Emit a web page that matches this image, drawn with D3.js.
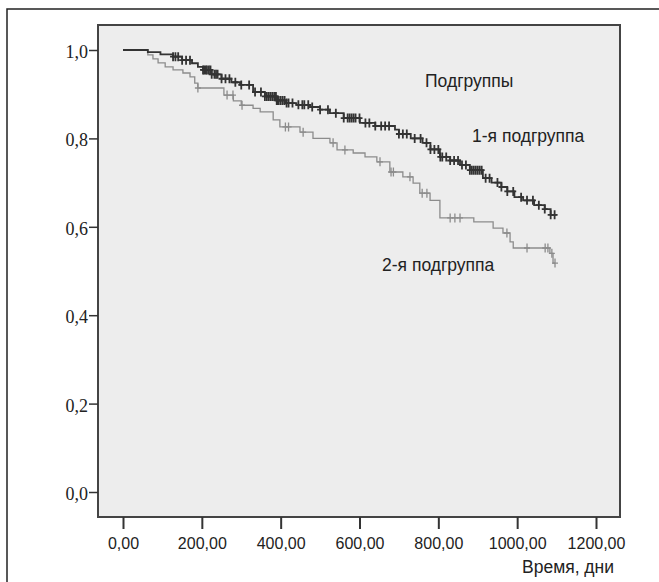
<!DOCTYPE html>
<html>
<head>
<meta charset="utf-8">
<script src="https://cdn.jsdelivr.net/npm/d3@7"></script>
<style>
  body { margin: 0; background: #fff; }
  .ytick text { font-family: "Liberation Serif", serif; font-size: 18px; fill: #222; }
  .xtick text { font-family: "Liberation Sans", sans-serif; font-size: 16px; fill: #222; }
  .lbl { font-family: "Liberation Sans", Arial, sans-serif; font-size: 17.5px; fill: #222; }
</style>
</head>
<body>
<div class="content"></div>
<script>
var width = 659
var height = 582

// group 1 (dark): step times and survival after each step
var times1 = [0, 63, 95, 127, 150, 175, 190, 203, 225, 250, 275, 297, 330, 360, 390, 411, 440, 475, 500, 525, 560, 601, 640, 690, 700, 730, 760, 780, 804, 830, 855, 880, 913, 935, 960, 975, 993, 1015, 1043, 1070, 1085]
var surv1 = [1.0, 0.995, 0.99, 0.985, 0.977, 0.97, 0.962, 0.955, 0.945, 0.935, 0.927, 0.921, 0.905, 0.895, 0.886, 0.88, 0.876, 0.871, 0.865, 0.857, 0.846, 0.835, 0.828, 0.82, 0.81, 0.80, 0.79, 0.775, 0.758, 0.75, 0.74, 0.728, 0.71, 0.70, 0.69, 0.68, 0.667, 0.66, 0.649, 0.64, 0.627]
var end1 = 1100
var censor1 = [127, 133, 140, 150, 160, 170, 203, 206, 210, 213, 218, 222, 225, 232, 236, 240, 250, 260, 270, 285, 300, 320, 335, 350, 360, 365, 370, 375, 380, 385, 388, 390, 393, 395, 400, 405, 410, 415, 420, 430, 445, 455, 460, 470, 480, 500, 520, 540, 560, 570, 575, 580, 585, 590, 600, 615, 625, 640, 655, 665, 675, 700, 710, 720, 740, 755, 770, 780, 790, 800, 805, 810, 820, 830, 840, 850, 860, 870, 880, 885, 890, 895, 900, 905, 910, 920, 930, 950, 960, 975, 990, 1010, 1025, 1040, 1055, 1070, 1085, 1095]

// group 2 (light)
var times2 = [0, 63, 76, 89, 107, 127, 152, 170, 182, 190, 256, 280, 300, 330, 348, 381, 398, 449, 482, 525, 543, 584, 614, 644, 677, 710, 736, 753, 779, 804, 890, 939, 964, 982, 990, 1083, 1091]
var surv2 = [1.0, 0.989, 0.98, 0.971, 0.962, 0.955, 0.948, 0.939, 0.925, 0.914, 0.898, 0.885, 0.875, 0.868, 0.86, 0.842, 0.826, 0.814, 0.80, 0.79, 0.774, 0.767, 0.758, 0.747, 0.724, 0.713, 0.699, 0.676, 0.66, 0.62, 0.611, 0.597, 0.586, 0.566, 0.552, 0.54, 0.518]
var end2 = 1096
var censor2 = [190, 264, 279, 302, 412, 420, 457, 533, 563, 652, 680, 686, 728, 759, 771, 830, 842, 855, 974, 1025, 1071, 1078, 1088, 1096]

var xTicks = [0, 200, 400, 600, 800, 1000, 1200]
var yTicks = [0, 0.2, 0.4, 0.6, 0.8, 1.0]

var x = d3.scaleLinear().domain([0, 1200]).range([123, 596])
var y = d3.scaleLinear().domain([0, 1]).range([492, 50])

var svg = d3.select('.content').append('svg')
    .attr('width', width)
    .attr('height', height)

// outer frame (right and bottom edges fall outside the picture)
svg.append('rect')
    .attr('x', 7).attr('y', 9)
    .attr('width', 700).attr('height', 700)
    .attr('fill', 'none')
    .attr('stroke', '#222')
    .attr('stroke-width', 1.5)

svg.append('rect')
    .attr('x', 98).attr('y', 25)
    .attr('width', 522).attr('height', 492)
    .attr('fill', '#ededed')
    .attr('stroke', '#444')
    .attr('stroke-width', 2)

var yAxis = svg.append('g')
    .attr('class', 'ytick')
    .attr('transform', 'translate(98,0)')
    .call(d3.axisLeft(y).tickValues(yTicks).tickSize(9).tickPadding(1)
        .tickFormat(function(d) { return d3.format('.1f')(d).replace('.', ',') }))
yAxis.select('.domain').remove()
yAxis.selectAll('line').attr('stroke', '#333').attr('stroke-width', 1.5)
yAxis.selectAll('text').attr('dy', '0.42em')

var xAxis = svg.append('g')
    .attr('class', 'xtick')
    .attr('transform', 'translate(0,517)')
    .call(d3.axisBottom(x).tickValues(xTicks).tickSize(12).tickPadding(9)
        .tickFormat(function(d) { return d3.format('.2f')(d).replace('.', ',') }))
xAxis.select('.domain').remove()
xAxis.selectAll('line').attr('stroke', '#333').attr('stroke-width', 2)

function stepAt(times, surv, t) {
    var i = d3.bisectRight(times, t) - 1
    return surv[Math.max(i, 0)]
}

function drawCurve(times, surv, endT, censors, color, sw) {
    var pts = times.map(function(t, i) { return [t, surv[i]] })
    pts.push([endT, surv[surv.length - 1]])
    var line = d3.line()
        .x(function(d) { return x(d[0]) })
        .y(function(d) { return y(d[1]) })
        .curve(d3.curveStepAfter)
    svg.append('path')
        .datum(pts)
        .attr('d', line)
        .attr('fill', 'none')
        .attr('stroke', color)
        .attr('stroke-width', sw)
    svg.append('g')
        .selectAll('path')
        .data(censors)
        .enter().append('path')
        .attr('d', function(t) {
            var cx = x(t), cy = y(stepAt(times, surv, t))
            return 'M' + cx + ',' + (cy - 4.5) + 'V' + (cy + 4.5) + 'M' + (cx - 3) + ',' + cy + 'H' + (cx + 3)
        })
        .attr('fill', 'none')
        .attr('stroke', color)
        .attr('stroke-width', sw)
}

drawCurve(times2, surv2, end2, censor2, '#8c8c8c', 1.3)
drawCurve(times1, surv1, end1, censor1, '#333', 1.8)

svg.append('text').attr('class', 'lbl').attr('x', 425).attr('y', 87).text('Подгруппы')
svg.append('text').attr('class', 'lbl').attr('x', 472).attr('y', 142).text('1-я подгруппа')
svg.append('text').attr('class', 'lbl').attr('x', 382).attr('y', 271).text('2-я подгруппа')
svg.append('text').attr('class', 'lbl').attr('x', 522).attr('y', 573).text('Время, дни')
</script>
</body>
</html>
